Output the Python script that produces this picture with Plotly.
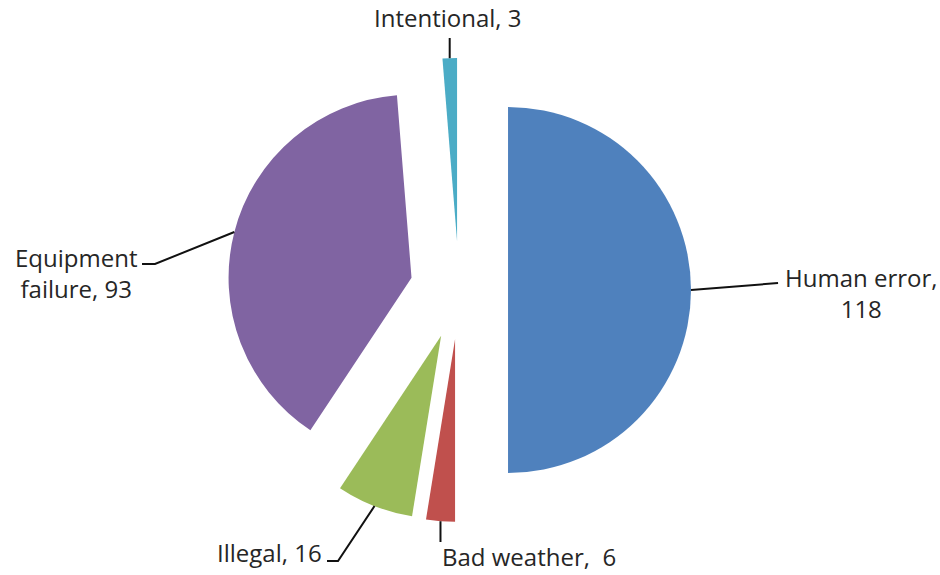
import numpy as np
import plotly.graph_objects as go

# Incident causes and their counts
categories = ["Human error", "Bad weather", "Illegal", "Equipment failure", "Intentional"]
counts = [118, 6, 16, 93, 3]
colors = ["#4F81BD", "#C0504D", "#9BBB59", "#8064A2", "#4BACC6"]

# Page / pie geometry (pixels)
W, H = 940, 575
CX, CY = 459, 290          # pie centre
R_OUT = 232                # radius including the exploded offset
PULL = 0.268               # explode fraction of the radius

FONT = dict(family="'Open Sans', Lato, sans-serif", size=24, color="#262626")
LINE = dict(color="#111111", width=2)

# Label placement: extra leader-line points after the slice edge, text anchor
label_style = {
    "Human error": dict(fmt="Human error,<br>{v}", path=[(778, 283)],
                        at=(783, 293), xanchor="left", yanchor="middle"),
    "Bad weather": dict(fmt="Bad weather,  {v}", path=[None, 542],
                        at=(440, 575), xanchor="left", yanchor="bottom"),
    "Illegal": dict(fmt="Illegal, {v}", path=[(338, 561), (327, 561)],
                    at=(324, 552), xanchor="right", yanchor="middle"),
    "Equipment failure": dict(fmt="Equipment<br>failure, {v}", path=[(155, 264), (142, 264)],
                              at=(139, 273), xanchor="right", yanchor="middle"),
    "Intentional": dict(fmt="Intentional, {v}", path=[None, 38],
                        at=(448, 18), xanchor="center", yanchor="middle"),
}


def px(x, y):
    return x / W, 1 - y / H


fig = go.Figure(go.Pie(
    labels=categories,
    values=counts,
    sort=False,
    direction="clockwise",
    rotation=0,
    pull=[PULL] * len(counts),
    marker=dict(colors=colors, line=dict(width=0)),
    textinfo="none",
    hoverinfo="label+value",
    domain=dict(x=[(CX - R_OUT) / W, (CX + R_OUT) / W],
                y=[1 - (CY + R_OUT) / H, 1 - (CY - R_OUT) / H]),
    showlegend=False,
))

# Leader lines start at the outer edge of each exploded slice, mid-angle
vals = np.array(counts, dtype=float)
mids = (np.cumsum(vals) - vals / 2) / vals.sum() * 2 * np.pi
shapes, annotations = [], []
for cat, val, th in zip(categories, counts, mids):
    st = label_style[cat]
    ex, ey = CX + R_OUT * np.sin(th), CY - R_OUT * np.cos(th)
    pts = [(ex, ey)]
    if st["path"][0] is None:          # straight vertical leader
        pts.append((ex, st["path"][1]))
    else:
        pts += st["path"]
    d = "M " + " L ".join("{:.4f},{:.4f}".format(*px(x, y)) for x, y in pts)
    shapes.append(dict(type="path", path=d, xref="paper", yref="paper", line=LINE))
    ax, ay = px(*st["at"])
    annotations.append(dict(
        text=st["fmt"].format(v=val), x=ax, y=ay, xref="paper", yref="paper",
        xanchor=st["xanchor"], yanchor=st["yanchor"], align="center",
        showarrow=False, font=FONT,
    ))

fig.update_layout(
    width=W, height=H,
    margin=dict(l=0, r=0, t=0, b=0),
    paper_bgcolor="white", plot_bgcolor="white",
    shapes=shapes, annotations=annotations,
)

fig.write_html("out.html")
